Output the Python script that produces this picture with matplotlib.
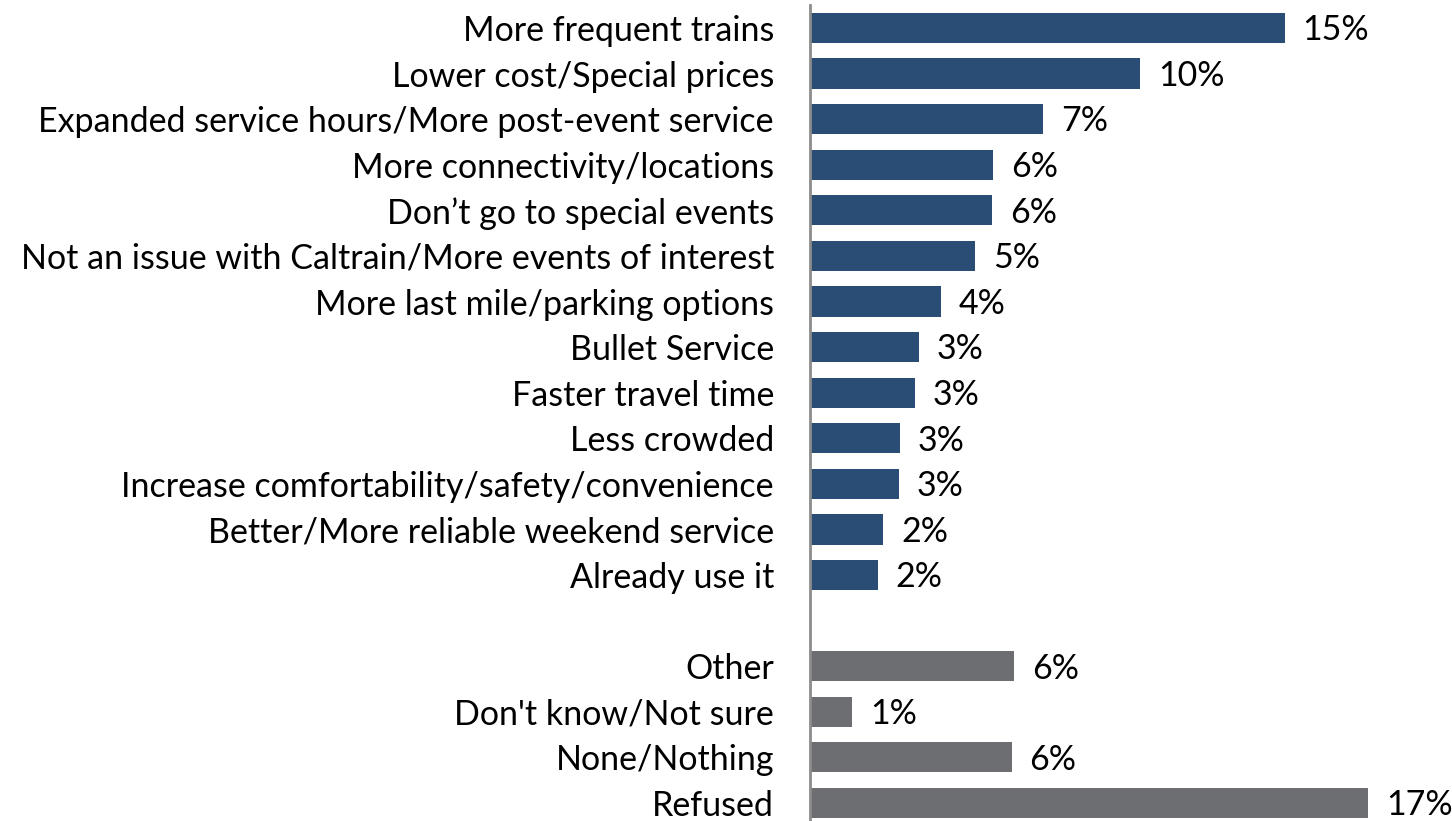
import numpy as np
import matplotlib.pyplot as plt

# Data (percent of respondents)
main_labels = ["More frequent trains", "Lower cost/Special prices",
               "Expanded service hours/More post-event service",
               "More connectivity/locations", "Don\u2019t go to special events",
               "Not an issue with Caltrain/More events of interest",
               "More last mile/parking options", "Bullet Service",
               "Faster travel time", "Less crowded",
               "Increase comfortability/safety/convenience",
               "Better/More reliable weekend service", "Already use it"]
main_values = [14.6, 10.15, 7.17, 5.63, 5.6, 5.08, 4.03, 3.35, 3.23, 2.77, 2.74, 2.25, 2.09]

other_labels = ["Other", "Don't know/Not sure", "None/Nothing", "Refused"]
other_values = [6.28, 1.29, 6.2, 17.17]

BLUE = "#294D75"
GRAY = "#6D6E71"

plt.rcParams['font.family'] = ['Lato', 'DejaVu Sans']

fig = plt.figure(figsize=(14.52, 8.21), dpi=100)
ax = fig.add_axes([810 / 1452, 0, (1452 - 810) / 1452, 1])

# slot positions: main block, one empty slot, then the other block
pos_main = np.arange(len(main_labels))
pos_other = np.arange(len(other_labels)) + len(main_labels) + 1

bh = 0.66
ax.barh(pos_main, main_values, height=bh, color=BLUE)
ax.barh(pos_other, other_values, height=bh, color=GRAY)

fs = 24.5
for p, v in zip(list(pos_main) + list(pos_other), main_values + other_values):
    ax.text(v + 0.55, p + 0.05, f"{round(v):.0f}%", va='center', ha='left', fontsize=fs)

ax.set_yticks(list(pos_main) + list(pos_other))
ax.set_yticklabels(main_labels + other_labels, fontsize=fs)
ax.tick_params(axis='y', length=0, pad=26)

slot = 45.67
ax.set_ylim(17 + (821 - 803) / slot, -28 / slot)
ax.set_xlim(0, (1452 - 810) / 32.5)
ax.set_xticks([])

for s in ['top', 'right', 'bottom']:
    ax.spines[s].set_visible(False)
ax.spines['left'].set_color('#8C8C8C')
ax.spines['left'].set_linewidth(2)
ax.spines['left'].set_bounds(17 + (821 - 803) / slot, -23 / slot)

fig.savefig("out.png", dpi=100)
